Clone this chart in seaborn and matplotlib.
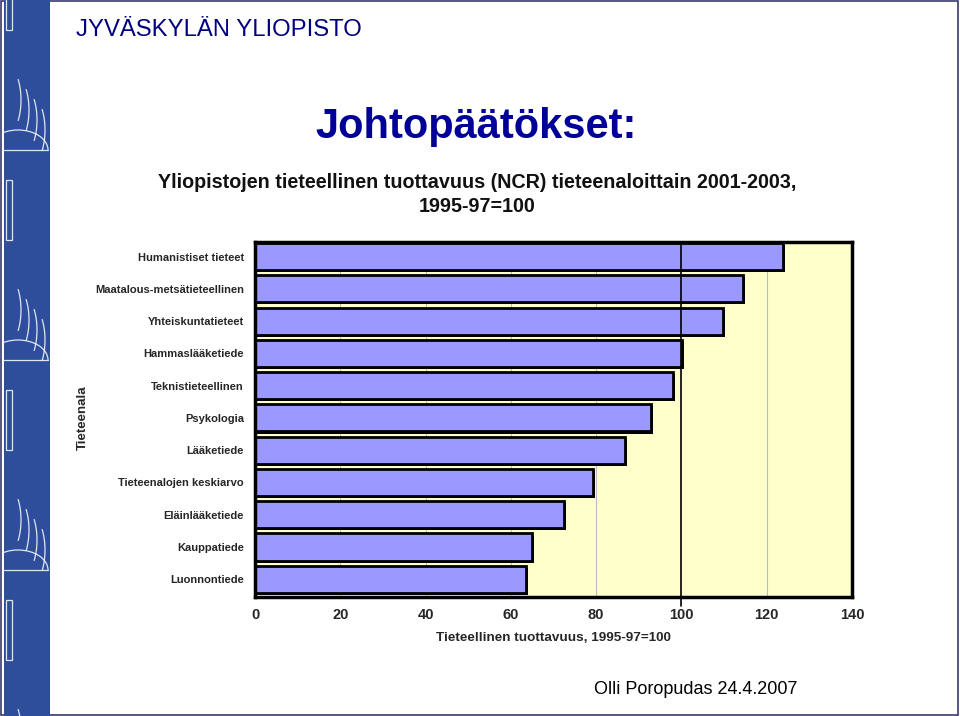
import matplotlib
matplotlib.use("Agg")
import matplotlib.pyplot as plt
import matplotlib.patheffects as pe
from matplotlib.patches import Rectangle, Arc
import seaborn as sns
import pandas as pd

categories = [
    "Humanistiset tieteet",
    "Maatalous-metsätieteellinen",
    "Yhteiskuntatieteet",
    "Hammaslääketiede",
    "Teknistieteellinen",
    "Psykologia",
    "Lääketiede",
    "Tieteenalojen keskiarvo",
    "Eläinlääketiede",
    "Kauppatiede",
    "Luonnontiede",
]
values = [123.8, 114.4, 109.8, 100.1, 98.0, 92.9, 86.8, 79.3, 72.5, 65.0, 63.6]
xticks = [0, 20, 40, 60, 80, 100, 120, 140]

df = pd.DataFrame({"Tieteenala": categories, "Tuottavuus": values})

sns.set_theme(style="white")
plt.rcParams["font.family"] = ["Liberation Sans", "DejaVu Sans"]

fig = plt.figure(figsize=(9.6, 7.16), dpi=100)
W, H = 960, 716

def fx(x):
    return x / W

def fy(y):
    return 1 - y / H

# Left decorative stripe
stripe_ax = fig.add_axes([fx(4), 0, fx(50) - fx(4), 1])
stripe_ax.set_xlim(0, 46)
stripe_ax.set_ylim(716, 0)
stripe_ax.axis("off")
stripe_ax.add_patch(Rectangle((0, 0), 46, 716, color="#2E4E9C"))
for y0 in [-170, 40, 250, 460, 670]:
    for k in range(4):
        stripe_ax.add_patch(Arc((2 + 8 * k, y0 + 60 + 10 * k), 30, 70, theta1=300, theta2=60,
                                color="white", lw=0.9, alpha=0.85))
    stripe_ax.add_patch(Arc((14, y0 + 110), 60, 40, theta1=180, theta2=360,
                            color="white", lw=0.9, alpha=0.85))
    stripe_ax.plot([0, 44], [y0 + 110, y0 + 110], color="white", lw=0.9, alpha=0.85)
    stripe_ax.add_patch(Rectangle((2, y0 + 140), 6, 60, fill=False, ec="white", lw=0.9, alpha=0.85))

# Slide border
border_ax = fig.add_axes([0, 0, 1, 1], zorder=-5)
border_ax.axis("off")
border_ax.add_patch(Rectangle((0.001, 0.001), 0.997, 0.997, fill=False, ec="#3A3A70", lw=1.2,
                              transform=border_ax.transAxes))

# Texts
fig.text(fx(76), fy(30), "JYVÄSKYLÄN YLIOPISTO", fontsize=17.2, color="#000080",
         ha="left", va="center")
fig.text(fx(476), fy(127), "Johtopäätökset:", fontsize=30, fontweight="bold",
         color="#000099", ha="center", va="center")
fig.text(fx(477), fy(183), "Yliopistojen tieteellinen tuottavuus (NCR) tieteenaloittain 2001-2003,",
         fontsize=14.2, fontweight="bold", color="#111111", ha="center", va="center")
fig.text(fx(477), fy(206), "1995-97=100", fontsize=14.2, fontweight="bold", color="#111111",
         ha="center", va="center")
fig.text(fx(696), fy(689), "Olli Poropudas 24.4.2007", fontsize=13, color="black",
         ha="center", va="center")

# Chart
ax = fig.add_axes([fx(255), fy(597), fx(852) - fx(255), fy(242) - fy(597)])
ax.set_facecolor("#FFFFCC")
sns.barplot(data=df, x="Tuottavuus", y="Tieteenala", orient="h", color="#9999FF",
            saturation=1, edgecolor="black", linewidth=2, width=0.84, ax=ax, zorder=3)
for p in ax.patches:
    p.set_path_effects([pe.SimplePatchShadow(offset=(1.5, -1.5), shadow_rgbFace="black", alpha=1),
                        pe.Normal()])

ax.set_xlim(0, 140)
ax.set_ylim(10.55, -0.45)
ax.set_xticks(xticks)
ax.set_xticklabels([str(t) for t in xticks], fontsize=10.5, fontweight="bold")
ax.tick_params(axis="x", length=0, pad=8)
ax.tick_params(axis="y", length=0, pad=8)
for lbl in ax.get_yticklabels():
    lbl.set_fontsize(8)
    lbl.set_fontweight("bold")
for t in xticks[1:-1]:
    if t != 100:
        ax.axvline(t, color="#BBBBBB", lw=0.8, zorder=1)
ax.axvline(100, ymin=-0.025, ymax=1, color="black", lw=1.2, zorder=4, clip_on=False)

ax.set_xlabel("Tieteellinen tuottavuus, 1995-97=100", fontsize=9.7, fontweight="bold", labelpad=7)
ax.set_ylabel("")
fig.text(fx(83), fy(418), "Tieteenala", rotation=90, fontsize=9.5, fontweight="bold",
         ha="center", va="center")
for s in ["top", "right", "bottom", "left"]:
    ax.spines[s].set_visible(True)
    ax.spines[s].set_color("black")
    ax.spines[s].set_linewidth(2.5)
    ax.spines[s].set_zorder(5)

fig.savefig("out.png", dpi=100)
